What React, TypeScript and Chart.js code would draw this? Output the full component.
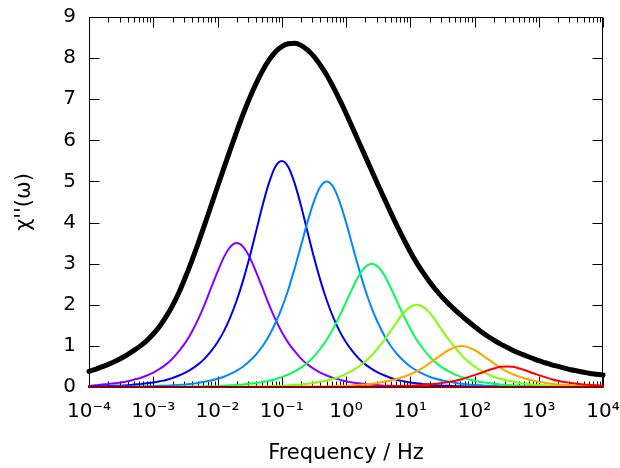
import React, { useEffect, useRef } from 'react';
import { Chart, registerables } from 'chart.js';

Chart.register(...registerables);

// log10(frequency / Hz) at which the curves were read, every 0.1 decade
const freqExponents = [
  -4, -3.9, -3.8, -3.7, -3.6, -3.5, -3.4, -3.3, -3.2, -3.1,
  -3, -2.9, -2.8, -2.7, -2.6, -2.5, -2.4, -2.3, -2.2, -2.1,
  -2, -1.9, -1.8, -1.7, -1.6, -1.5, -1.4, -1.3, -1.2, -1.1,
  -1, -0.9, -0.8, -0.7, -0.6, -0.5, -0.4, -0.3, -0.2, -0.1,
  0, 0.1, 0.2, 0.3, 0.4, 0.5, 0.6, 0.7, 0.8, 0.9,
  1, 1.1, 1.2, 1.3, 1.4, 1.5, 1.6, 1.7, 1.8, 1.9,
  2, 2.1, 2.2, 2.3, 2.4, 2.5, 2.6, 2.7, 2.8, 2.9,
  3, 3.1, 3.2, 3.3, 3.4, 3.5, 3.6, 3.7, 3.8, 3.9,
  4,
];

const chiTotal = [
  0.38, 0.43, 0.49, 0.55, 0.62, 0.70, 0.79, 0.89, 1.00, 1.13,
  1.29, 1.48, 1.71, 1.98, 2.30, 2.67, 3.07, 3.50, 3.95, 4.41,
  4.87, 5.33, 5.78, 6.22, 6.64, 7.03, 7.38, 7.69, 7.95, 8.15,
  8.28, 8.35, 8.36, 8.31, 8.20, 8.04, 7.83, 7.59, 7.30, 6.99,
  6.66, 6.31, 5.96, 5.61, 5.26, 4.91, 4.57, 4.23, 3.90, 3.59,
  3.29, 3.02, 2.78, 2.56, 2.36, 2.18, 2.02, 1.87, 1.73, 1.60,
  1.47, 1.35, 1.24, 1.14, 1.05, 0.97, 0.89, 0.82, 0.76, 0.70,
  0.64, 0.59, 0.54, 0.50, 0.46, 0.42, 0.39, 0.36, 0.33, 0.31,
  0.29,
];
const chiPeak0_02Hz = [
  0.03, 0.04, 0.06, 0.07, 0.09, 0.11, 0.14, 0.18, 0.22, 0.28,
  0.35, 0.44, 0.55, 0.69, 0.87, 1.08, 1.34, 1.65, 2.01, 2.41,
  2.80, 3.16, 3.41, 3.50, 3.41, 3.16, 2.80, 2.41, 2.01, 1.65,
  1.34, 1.08, 0.87, 0.69, 0.55, 0.44, 0.35, 0.28, 0.22, 0.18,
  0.14, 0.11, 0.09, 0.07, 0.06, 0.04, 0.03, 0.03, 0.02, 0.02,
  0.01, 0.01, 0.01, 0.01, 0.01, 0, 0, 0, 0, 0,
  0, 0, 0, 0, 0, 0, 0, 0, 0, 0,
  0, 0, 0, 0, 0, 0, 0, 0, 0, 0,
  0,
];
const chiPeak0_1Hz = [
  0.01, 0.01, 0.02, 0.02, 0.03, 0.03, 0.04, 0.06, 0.07, 0.09,
  0.11, 0.14, 0.17, 0.22, 0.28, 0.35, 0.44, 0.55, 0.69, 0.87,
  1.09, 1.36, 1.70, 2.11, 2.60, 3.16, 3.78, 4.41, 4.96, 5.36,
  5.50, 5.36, 4.96, 4.41, 3.78, 3.16, 2.60, 2.11, 1.70, 1.36,
  1.09, 0.87, 0.69, 0.55, 0.44, 0.35, 0.28, 0.22, 0.17, 0.14,
  0.11, 0.09, 0.07, 0.06, 0.04, 0.03, 0.03, 0.02, 0.02, 0.01,
  0.01, 0.01, 0.01, 0.01, 0, 0, 0, 0, 0, 0,
  0, 0, 0, 0, 0, 0, 0, 0, 0, 0,
  0,
];
const chiPeak0_5Hz = [
  0, 0, 0, 0, 0.01, 0.01, 0.01, 0.01, 0.01, 0.02,
  0.02, 0.03, 0.03, 0.04, 0.05, 0.06, 0.08, 0.10, 0.13, 0.16,
  0.20, 0.25, 0.32, 0.40, 0.50, 0.63, 0.79, 0.99, 1.24, 1.55,
  1.92, 2.36, 2.88, 3.44, 4.01, 4.51, 4.87, 5.00, 4.87, 4.51,
  4.01, 3.44, 2.88, 2.36, 1.92, 1.55, 1.24, 0.99, 0.79, 0.63,
  0.50, 0.40, 0.32, 0.25, 0.20, 0.16, 0.13, 0.10, 0.08, 0.06,
  0.05, 0.04, 0.03, 0.03, 0.02, 0.02, 0.01, 0.01, 0.01, 0.01,
  0.01, 0, 0, 0, 0, 0, 0, 0, 0, 0,
  0,
];
const chiPeak2_5Hz = [
  0, 0, 0, 0, 0, 0, 0, 0, 0, 0,
  0, 0, 0, 0, 0.01, 0.01, 0.01, 0.01, 0.02, 0.02,
  0.02, 0.03, 0.04, 0.05, 0.06, 0.08, 0.10, 0.12, 0.15, 0.19,
  0.24, 0.30, 0.38, 0.47, 0.59, 0.74, 0.93, 1.15, 1.42, 1.73,
  2.06, 2.40, 2.71, 2.92, 3.00, 2.92, 2.71, 2.40, 2.06, 1.73,
  1.42, 1.15, 0.93, 0.74, 0.59, 0.47, 0.38, 0.30, 0.24, 0.19,
  0.15, 0.12, 0.10, 0.08, 0.06, 0.05, 0.04, 0.03, 0.02, 0.02,
  0.02, 0.01, 0.01, 0.01, 0.01, 0, 0, 0, 0, 0,
  0,
];
const chiPeak12Hz = [
  0, 0, 0, 0, 0, 0, 0, 0, 0, 0,
  0, 0, 0, 0, 0, 0, 0, 0, 0, 0,
  0, 0, 0.01, 0.01, 0.01, 0.01, 0.01, 0.02, 0.02, 0.03,
  0.03, 0.04, 0.05, 0.06, 0.08, 0.10, 0.13, 0.16, 0.20, 0.25,
  0.32, 0.40, 0.50, 0.62, 0.77, 0.95, 1.15, 1.37, 1.60, 1.81,
  1.95, 2.00, 1.95, 1.81, 1.60, 1.37, 1.15, 0.95, 0.77, 0.62,
  0.50, 0.40, 0.32, 0.25, 0.20, 0.16, 0.13, 0.10, 0.08, 0.06,
  0.05, 0.04, 0.03, 0.03, 0.02, 0.02, 0.01, 0.01, 0.01, 0.01,
  0.01,
];
const chiPeak62Hz = [
  0, 0, 0, 0, 0, 0, 0, 0, 0, 0,
  0, 0, 0, 0, 0, 0, 0, 0, 0, 0,
  0, 0, 0, 0, 0, 0, 0, 0, 0, 0,
  0, 0, 0, 0.01, 0.01, 0.01, 0.01, 0.02, 0.02, 0.03,
  0.03, 0.04, 0.05, 0.06, 0.08, 0.10, 0.13, 0.16, 0.20, 0.25,
  0.31, 0.38, 0.47, 0.58, 0.69, 0.80, 0.90, 0.97, 1.00, 0.97,
  0.90, 0.80, 0.69, 0.58, 0.47, 0.38, 0.31, 0.25, 0.20, 0.16,
  0.13, 0.10, 0.08, 0.06, 0.05, 0.04, 0.03, 0.03, 0.02, 0.02,
  0.01,
];
const chiPeak310Hz = [
  0, 0, 0, 0, 0, 0, 0, 0, 0, 0,
  0, 0, 0, 0, 0, 0, 0, 0, 0, 0,
  0, 0, 0, 0, 0, 0, 0, 0, 0, 0,
  0, 0, 0, 0, 0, 0, 0, 0, 0, 0,
  0, 0, 0.01, 0.01, 0.01, 0.01, 0.01, 0.02, 0.02, 0.03,
  0.03, 0.04, 0.05, 0.06, 0.08, 0.10, 0.12, 0.15, 0.19, 0.24,
  0.29, 0.34, 0.40, 0.45, 0.49, 0.50, 0.49, 0.45, 0.40, 0.34,
  0.29, 0.24, 0.19, 0.15, 0.12, 0.10, 0.08, 0.06, 0.05, 0.04,
  0.03,
];
// flat dark-red trace lying on the zero line
const baselineExponents = [-4, 4];
const chiBaseline = [0, 0];

const xTickExponents = [-4, -3, -2, -1, 0, 1, 2, 3, 4];
const yTickValues = [0, 1, 2, 3, 4, 5, 6, 7, 8, 9];
const xTitle = 'Frequency / Hz';
const yTitle = "χ''(ω)";

const SUP: Record<string, string> = {
  '-': '⁻', '0': '⁰', '1': '¹', '2': '²', '3': '³', '4': '⁴', '5': '⁵', '6': '⁶', '7': '⁷', '8': '⁸', '9': '⁹',
};
const powLabel = (e: number) => '10' + String(e).split('').map((c) => SUP[c] || c).join('');

const FONT = 'DejaVu Sans';

const framePlugin = {
  id: 'gnuplotFrame',
  beforeDatasetsDraw(chart: any) {
    const { ctx, chartArea, scales } = chart;
    const { left, right, top, bottom } = chartArea;
    const xs = scales.x;
    const ys = scales.y;
    const L = Math.round(left) + 0.5;
    const R = Math.round(right) - 0.5;
    const T = Math.round(top) + 0.5;
    const B = Math.round(bottom) - 0.5;
    ctx.save();
    ctx.strokeStyle = '#000';
    ctx.lineWidth = 1;
    ctx.beginPath();
    for (const v of yTickValues) {
      const py = Math.round(ys.getPixelForValue(v)) + 0.5;
      ctx.moveTo(L, py); ctx.lineTo(L + 10, py);
      ctx.moveTo(R, py); ctx.lineTo(R - 10, py);
    }
    for (let i = 0; i < xTickExponents.length; i++) {
      const e = xTickExponents[i];
      const px = Math.round(xs.getPixelForValue(Math.pow(10, e))) + 0.5;
      ctx.moveTo(px, B); ctx.lineTo(px, B - 10);
      ctx.moveTo(px, T); ctx.lineTo(px, T + 10);
      if (i < xTickExponents.length - 1) {
        for (let k = 2; k <= 9; k++) {
          const mx = Math.round(xs.getPixelForValue(k * Math.pow(10, e))) + 0.5;
          ctx.moveTo(mx, B); ctx.lineTo(mx, B - 5);
          ctx.moveTo(mx, T); ctx.lineTo(mx, T + 5);
        }
      }
    }
    ctx.stroke();
    ctx.beginPath();
    ctx.rect(L, T, R - L, B - T);
    ctx.stroke();
    ctx.restore();
  },
};

const seriesList = [
  { exps: baselineExponents, values: chiBaseline, color: '#8b0000', width: 2 },
  { exps: freqExponents, values: chiPeak310Hz, color: '#ff0000', width: 2 },
  { exps: freqExponents, values: chiPeak62Hz, color: '#ffa500', width: 2 },
  { exps: freqExponents, values: chiPeak12Hz, color: '#80ff00', width: 2 },
  { exps: freqExponents, values: chiPeak2_5Hz, color: '#00ff50', width: 2 },
  { exps: freqExponents, values: chiPeak0_5Hz, color: '#0088ff', width: 2 },
  { exps: freqExponents, values: chiPeak0_1Hz, color: '#0000ee', width: 2 },
  { exps: freqExponents, values: chiPeak0_02Hz, color: '#8800ff', width: 2 },
  { exps: freqExponents, values: chiTotal, color: '#000000', width: 5 },
];

export default function App() {
  const canvasRef = useRef<HTMLCanvasElement | null>(null);

  useEffect(() => {
    const canvas = canvasRef.current;
    if (!canvas) return;
    const chart = new Chart(canvas, {
      type: 'line',
      data: {
        datasets: seriesList.map((s) => ({
          data: s.exps.map((e, i) => ({ x: Math.pow(10, e), y: s.values[i] })),
          borderColor: s.color,
          backgroundColor: s.color,
          borderWidth: s.width,
          pointRadius: 0,
          cubicInterpolationMode: 'monotone' as const,
          fill: false,
          clip: false as any,
          borderCapStyle: 'round' as const,
          borderJoinStyle: 'round' as const,
        })),
      },
      options: {
        responsive: false,
        animation: false,
        events: [],
        layout: { padding: { top: 17, right: 17, left: 0, bottom: 0 } },
        plugins: { legend: { display: false }, tooltip: { enabled: false } },
        scales: {
          x: {
            type: 'logarithmic',
            min: 1e-4,
            max: 1e4,
            grid: { display: false, drawTicks: false },
            border: { display: false },
            afterBuildTicks: (s: any) => {
              s.ticks = xTickExponents.map((e) => ({ value: Math.pow(10, e) }));
            },
            afterFit: (s: any) => {
              s.height = 81;
              s.paddingLeft = 0;
              s.paddingRight = 0;
            },
            ticks: {
              autoSkip: false,
              maxRotation: 0,
              padding: 13,
              color: '#000',
              font: { family: FONT, size: 20 },
              callback: (v: any) => powLabel(Math.round(Math.log10(Number(v)))),
            },
            title: {
              display: true,
              text: xTitle,
              color: '#000',
              font: { family: FONT, size: 21 },
              padding: { top: 0, bottom: 2 },
            },
          },
          y: {
            type: 'linear',
            min: 0,
            max: 9,
            grid: { display: false, drawTicks: false },
            border: { display: false },
            afterBuildTicks: (s: any) => {
              s.ticks = yTickValues.map((v) => ({ value: v }));
            },
            afterFit: (s: any) => {
              s.width = 89;
              s.paddingTop = 0;
              s.paddingBottom = 0;
            },
            ticks: {
              padding: 13,
              color: '#000',
              font: { family: FONT, size: 20 },
              callback: (v: any) => String(v),
            },
            title: {
              display: true,
              text: yTitle,
              color: '#000',
              font: { family: FONT, size: 21 },
              padding: { top: 12, bottom: 0 },
            },
          },
        },
      },
      plugins: [framePlugin],
    } as any);
    return () => chart.destroy();
  }, []);

  return (
    <div style={{ position: 'absolute', left: 0, top: 0, width: 620, height: 468, background: '#fff' }}>
      <canvas ref={canvasRef} width={620} height={468} style={{ display: 'block' }} />
    </div>
  );
}
